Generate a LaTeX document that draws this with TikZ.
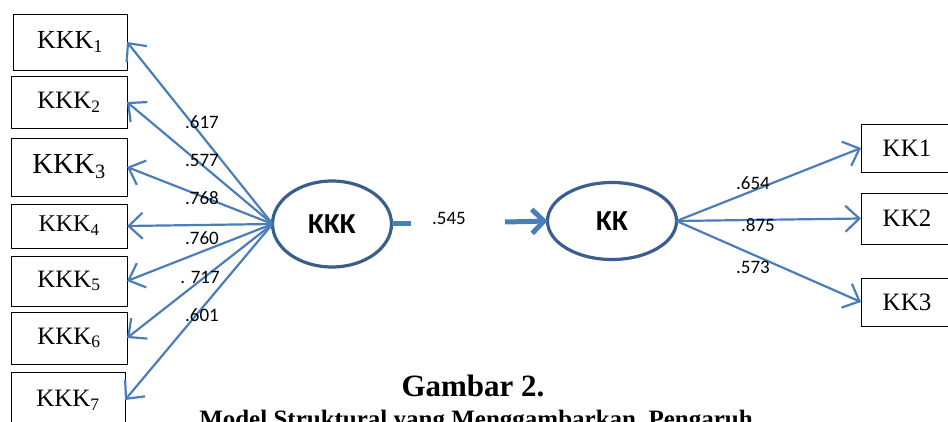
\documentclass[tikz,border=0pt]{standalone}
\usepackage{fontspec}
\setmainfont{Liberation Serif}
\newfontfamily\calib{Carlito}
\usetikzlibrary{arrows.meta,shapes.geometric}
\definecolor{arrblue}{HTML}{4A7EBB}
\definecolor{ellblue}{HTML}{3A5F8E}
\tikzset{
  mbox/.style={draw=black, line width=0.9pt, inner sep=0pt, outer sep=0pt, minimum width=116pt},
  latent/.style={ellipse, draw=ellblue, line width=3.2pt, inner sep=0pt, outer sep=0pt, font=\calib\bfseries\fontsize{29}{29}\selectfont},
  load/.style={draw=arrblue, line width=2.2pt, -{Straight Barb[length=14pt,width=26pt,line width=2.2pt]}},
  coef/.style={font=\calib\fontsize{19}{19}\selectfont, inner sep=0pt},
  ktxt/.style={font=\fontsize{25}{25}\selectfont}
}
\begin{document}
\begin{tikzpicture}[x=1pt,y=-1pt]
\useasboundingbox (0,0) rectangle (948,422);
% left indicator boxes
\node[mbox, minimum width=114pt, minimum height=56pt, font=\fontsize{26}{26}\selectfont] (k1) at (70,42) {KKK\textsubscript{1}};
\node[mbox, minimum height=52pt, ktxt] (k2) at (69,102) {KKK\textsubscript{2}};
\node[mbox, minimum height=58pt, font=\fontsize{29}{29}\selectfont] (k3) at (69,167) {KKK\textsubscript{3}};
\node[mbox, minimum height=44pt, font=\fontsize{24}{24}\selectfont] (k4) at (69,226) {KKK\textsubscript{4}};
\node[mbox, minimum height=50pt, ktxt] (k5) at (69,281) {KKK\textsubscript{5}};
\node[mbox, minimum height=52pt, ktxt] (k6) at (69,338) {KKK\textsubscript{6}};
\node[mbox, minimum width=114pt, minimum height=56pt, ktxt] (k7) at (68,400) {KKK\textsubscript{7}};
% latent variables
\node[latent, minimum width=119pt, minimum height=86pt] (kkk) at (332,224) {KKK};
\node[latent, minimum width=129pt, minimum height=77pt] (kk) at (612,221) {KK};
% right indicator boxes
\node[mbox, minimum width=92pt, minimum height=48pt, ktxt] (r1) at (907,148) {KK1};
\node[mbox, minimum width=92pt, minimum height=51pt, ktxt] (r2) at (907,218.5) {KK2};
\node[mbox, minimum width=92pt, minimum height=48pt, ktxt] (r3) at (907,302) {KK3};
% loadings left
\foreach \k in {k1,k2,k3,k4,k5,k6,k7}{
  \draw[load] (kkk.west) -- (\k.east);
}
\node[coef] (c1) at (202,122) {.617};
\node[coef] (c2) at (202,160) {.577};
\node[coef] (c3) at (202,198) {.768};
\node[coef] (c4) at (202,238) {.760};
\node[coef] (c5) at (200,277) {. 717};
\node[coef] (c6) at (202,315) {.601};
% structural path
\coordinate (g1) at (411,224);
\coordinate (g2) at (505,222);
\draw[draw=arrblue, line width=5pt] (kkk.east) -- (g1);
\draw[draw=arrblue, line width=5pt, -{Straight Barb[length=12pt,width=24pt,line width=5pt]}] (g2) -- (kk.west);
\node[coef] (c545) at (449,218) {.545};
% loadings right
\draw[load] (kk.east) -- (r1.west);
\draw[load] (kk.east) -- (r2.west);
\draw[load] (kk.east) -- (r3.west);
\node[coef] (d1) at (753,183) {.654};
\node[coef] (d2) at (758,225) {.875};
\node[coef] (d3) at (753,267) {.573};
% caption
\node[font=\bfseries\fontsize{31}{31}\selectfont, inner sep=0pt, anchor=base] (cap1) at (473,396) {Gambar 2.};
\node[font=\bfseries\fontsize{25}{25}\selectfont, inner sep=0pt, anchor=base] (cap2) at (476,427) {Model Struktural yang Menggambarkan\ \ Pengaruh};
\end{tikzpicture}
\end{document}
